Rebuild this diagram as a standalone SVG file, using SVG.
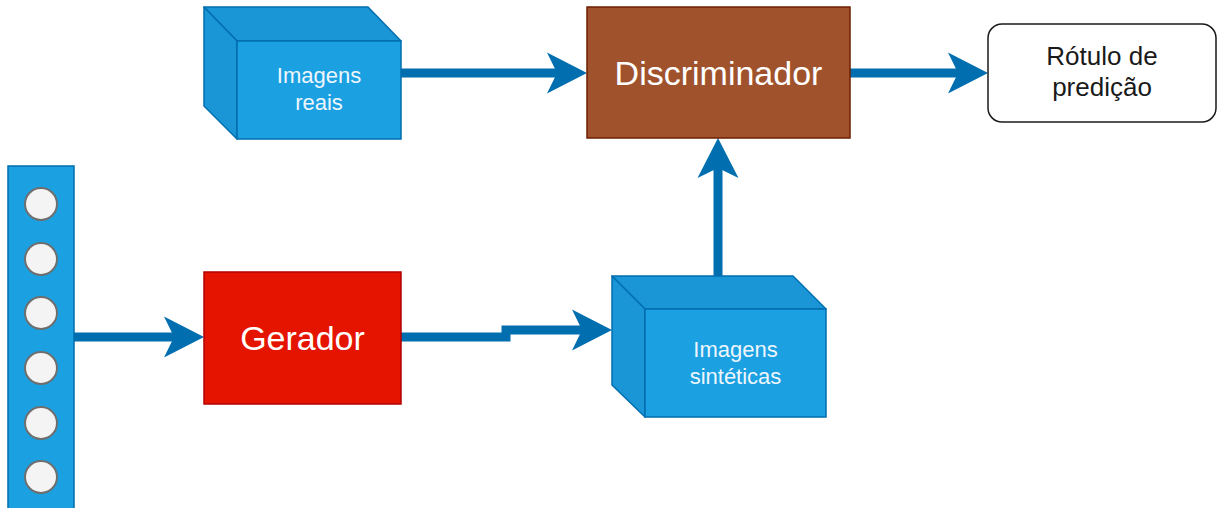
<svg xmlns="http://www.w3.org/2000/svg" width="1219" height="508" viewBox="0 0 1219 508">
<style>
.conn{fill:none;stroke:#006eaf;stroke-width:9;stroke-linejoin:miter;marker-end:url(#ah)}
.front{fill:#1ba1e2;stroke:#006eaf;stroke-width:1.5}
.side{fill:#1a95d5;stroke:#006eaf;stroke-width:1.5;stroke-linejoin:round}
.ct{font-family:"Liberation Sans",Arial,sans-serif;font-size:22px;fill:#eef6fc;text-anchor:middle}
.big{font-family:"Liberation Sans",Arial,sans-serif;font-size:34px;fill:#ffffff;text-anchor:middle}
.lbl{font-family:"Liberation Sans",Arial,sans-serif;font-size:26px;fill:#1a1a1a;text-anchor:middle}
.dot{fill:#f4f4f4;stroke:#6e6e6e;stroke-width:2}
</style>
<defs>
<marker id="ah" markerUnits="userSpaceOnUse" viewBox="-40 -21 41 42" refX="-30" refY="0" markerWidth="41" markerHeight="42" orient="auto">
<path d="M0,0 L-40,-20.5 L-30,0 L-40,20.5 Z" fill="#006eaf"/>
</marker>
</defs>
<g id="connectors">
<path class="conn" d="M74,337 H174"/>
<path class="conn" d="M401,337 H506 V330 H582"/>
<path class="conn" d="M401,73 H557"/>
<path class="conn" d="M718,276 V168"/>
<path class="conn" d="M850,73 H958"/>
</g>
<g id="input-vector">
<rect x="8" y="166" width="66" height="360" fill="#1ba1e2" stroke="#006eaf" stroke-width="1.5"/>
<circle class="dot" cx="41" cy="204" r="16"/>
<circle class="dot" cx="41" cy="259" r="16"/>
<circle class="dot" cx="41" cy="313" r="16"/>
<circle class="dot" cx="41" cy="368" r="16"/>
<circle class="dot" cx="41" cy="423" r="16"/>
<circle class="dot" cx="41" cy="477" r="16"/>
</g>
<g id="gerador">
<rect x="204" y="272" width="197" height="132" fill="#e51400" stroke="#b20000" stroke-width="1.5"/>
<text class="big" x="302.5" y="350">Gerador</text>
</g>
<g id="imagens-reais">
<path class="side" d="M204,7 H368 L401,41 H237 Z"/>
<path class="side" d="M204,7 L237,41 V139 L204,106 Z"/>
<rect class="front" x="237" y="41" width="164" height="98"/>
<text class="ct" x="319" y="83">Imagens</text>
<text class="ct" x="319" y="110">reais</text>
</g>
<g id="imagens-sinteticas">
<path class="side" d="M612,276 H793 L826,309 H645 Z"/>
<path class="side" d="M612,276 L645,309 V417 L612,385 Z"/>
<rect class="front" x="645" y="309" width="181" height="108"/>
<text class="ct" x="735.5" y="357">Imagens</text>
<text class="ct" x="735.5" y="384">sintéticas</text>
</g>
<g id="discriminador">
<rect x="587" y="7" width="263" height="131" fill="#a0522d" stroke="#6d1f00" stroke-width="1.5"/>
<text class="big" x="718.5" y="85">Discriminador</text>
</g>
<g id="rotulo">
<rect x="988" y="24" width="228" height="98" rx="14" ry="14" fill="#ffffff" stroke="#1a1a1a" stroke-width="1.5"/>
<text class="lbl" x="1102" y="65">Rótulo de</text>
<text class="lbl" x="1102" y="96">predição</text>
</g>
</svg>
